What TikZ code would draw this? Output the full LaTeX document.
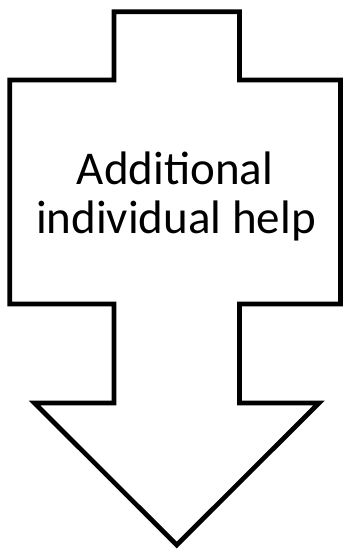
\documentclass[tikz,border=0pt]{standalone}
\usepackage{fontspec}
\setmainfont{Carlito}
\begin{document}
\begin{tikzpicture}[x=1pt,y=-1pt,
  arrowshape/.style={draw=black,line width=4.7pt,line join=miter,fill=white},
  lbl/.style={align=center,inner sep=0pt,font=\fontsize{47}{49}\selectfont}]
\useasboundingbox (0,0) rectangle (345,552);
\draw[arrowshape] (114,11.7) -- (239.5,11.7) -- (239.5,80) -- (340.5,80) -- (340.5,304)
  -- (239.5,304) -- (239.5,403) -- (319,403) -- (176.75,545) -- (34.5,403)
  -- (114,403) -- (114,304) -- (9.7,304) -- (9.7,80) -- (114,80) -- cycle;
\node[lbl,anchor=base] (t1) at (175,184) {Additional};
\node[lbl,anchor=base] (t2) at (176,233) {individual help};
\end{tikzpicture}
\end{document}
